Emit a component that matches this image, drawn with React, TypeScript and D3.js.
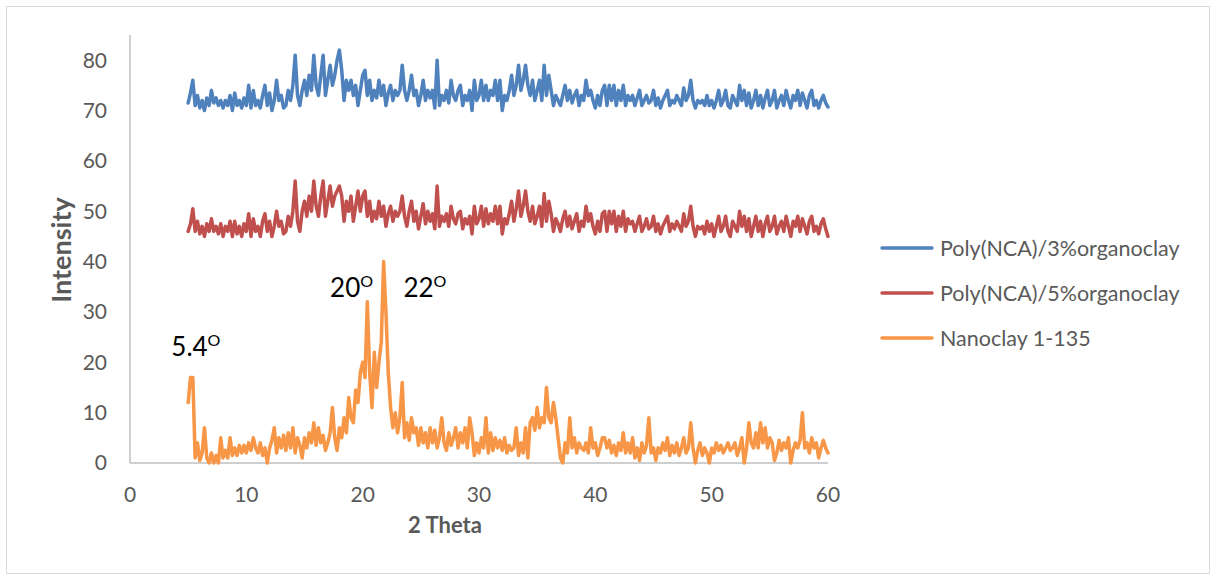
import React from "react";
import * as d3 from "d3";

// 2θ sampling grid: 5.0 to 60.0 in 0.2 steps
const twoTheta: number[] = d3.range(0, 276).map((i) => +(5 + i * 0.2).toFixed(1));

const seriesNames = ["Poly(NCA)/3%organoclay", "Poly(NCA)/5%organoclay", "Nanoclay 1-135"];
const seriesColors = ["#4F81BD", "#C0504D", "#F79646"];

const organo3: number[] = [
  71.5, 73.5, 76, 71, 73, 70.5, 72, 70, 72.5, 71,
  74, 71.5, 72.5, 71, 72, 70.5, 72, 71, 73, 70,
  73.5, 71, 72, 70.5, 72.5, 71, 75, 70.5, 74, 71,
  72, 70.5, 73, 75, 71, 73.5, 70, 72, 76, 72,
  73, 70.5, 71, 74, 72, 75, 81, 73, 71, 74,
  76, 73, 77, 74, 81, 75, 73, 77, 81, 73,
  76, 79, 75, 77, 80, 82, 78, 72, 76, 74,
  76, 73, 75, 71, 74, 77, 78, 73, 76, 72,
  74, 72.5, 76, 73, 75, 71, 73.5, 75, 72, 74,
  73, 74, 79, 74, 72, 74, 77, 73, 74, 71,
  73, 76, 72, 74, 72.5, 74, 70.5, 80, 71, 73,
  72, 74, 71.5, 76, 73, 72, 74, 75, 71, 73,
  72, 74, 70, 76, 72, 73, 76, 72, 75, 72,
  74, 73, 76, 72, 76, 70, 73, 72, 74, 77,
  73, 75, 79, 74, 76, 79, 75, 73, 76, 72,
  74, 76, 72, 79, 73, 77, 74, 71, 73, 72,
  71, 73, 75, 72, 74, 71.5, 73, 74, 71, 73,
  72, 76, 73, 74, 72, 70.5, 73, 71, 74, 75,
  71, 75, 72, 75, 71, 74, 72, 75, 71, 73,
  72, 73, 71, 72.5, 74, 71, 72, 73, 71.5, 72,
  74, 71, 72.5, 70.5, 72, 73, 74, 71, 72, 71.5,
  73, 72, 71, 74.5, 72, 73, 76, 72, 70.5, 72,
  71.5, 72, 71, 73, 71, 72, 70.5, 72, 74, 71,
  72, 74, 71, 70.5, 73, 72, 71, 75, 72, 74,
  71, 73.5, 70.5, 72, 74, 71, 73, 70.5, 72.5, 74,
  71, 72, 74, 70.5, 72, 73, 71, 74, 72, 70.5,
  73, 72, 74, 71, 73.5, 72, 70.5, 73, 74, 71,
  72, 70.5, 72, 73, 71.5, 70.7,
];

const organo5: number[] = [
  46, 47.5, 50.5, 46, 48, 45.5, 47, 45, 47.5, 46,
  48.5, 46, 47, 45.5, 47.5, 45, 47, 46, 48, 45,
  48, 45.5, 47, 45, 47.5, 46, 49.5, 45, 48.5, 46,
  47, 45, 48, 49.5, 46, 48, 45, 47, 50, 47,
  48, 45.5, 46, 49, 47, 50, 56, 48, 46, 50,
  52, 49, 53, 50, 56, 51, 49, 53, 56, 49,
  52, 55, 51, 53, 54, 55, 53, 48, 52, 50,
  53, 48, 51, 54, 50, 53, 54, 49, 52, 48,
  50, 48.5, 52, 49, 51, 47, 49.5, 51, 48, 50,
  49, 50, 53, 49, 47, 50, 52, 48, 50, 46.5,
  49, 51.5, 47.5, 50, 48, 49.5, 46.5, 55, 47, 49,
  48, 49.5, 47, 51, 48.5, 47.5, 49.5, 50, 46.5, 48.5,
  47.5, 49, 45.5, 51, 47.5, 48.5, 51, 47, 50.5, 47.5,
  49.5, 48, 51, 47.5, 51, 45.5, 48.5, 47.5, 49.5, 52,
  48, 50.5, 54, 49, 51, 54, 50, 48, 51, 47.5,
  49, 51, 47, 53.5, 48, 52, 49.5, 46, 48.5, 47.5,
  46, 48.5, 50, 47, 49, 46.5, 48, 49.5, 46, 48,
  47, 51, 48, 49.5, 47, 45.5, 48, 46, 49.5, 50,
  46, 50, 47.5, 50, 46, 49, 47, 50, 46, 48.5,
  47.5, 48, 46, 47.5, 49, 46, 47, 48.5, 46.5, 47,
  49, 46, 47.5, 45.5, 47, 48, 49, 46, 47.5, 46.5,
  48, 47, 46, 49.5, 47, 48, 51, 47, 45, 47,
  46.5, 47, 45.5, 48, 46, 47.5, 45, 47, 49, 46,
  47, 49, 46, 45, 48, 47, 46, 50, 47, 49,
  46, 48.5, 45, 47, 49, 46, 48, 45, 47.5, 49,
  46, 47, 49, 45.5, 47, 48, 46, 49, 47, 45,
  48, 47, 49, 46, 48.5, 47, 45.5, 48, 49, 46,
  47, 45.5, 47.5, 48.5, 46.5, 45,
];

const nanoclay: number[] = [
  12, 17, 17, 1, 4, 0.5, 2, 7, 1, 0,
  2, 0, 1.5, 0, 5, 1, 2.5, 1, 5, 1.5,
  3, 1.5, 3.5, 2, 3.5, 2, 4, 2.5, 5, 3,
  2, 4, 1.5, 3, 0, 3, 4.5, 7, 2, 5,
  3, 5.5, 2.5, 6, 3, 7, 2, 5, 3.5, 1,
  5, 3, 6, 4, 8, 3.5, 7, 4, 5.5, 2.5,
  4, 6, 11, 5, 2.5, 7, 5, 9, 6, 13,
  9, 8, 14.5, 12, 18, 20, 17, 32, 18, 11,
  22, 15, 20, 24, 40, 30, 18, 11, 7, 10,
  6, 9, 16, 5, 8, 4.5, 9, 6, 7, 3.5,
  7, 4, 6, 3, 7, 4, 6.5, 3, 5, 9,
  4, 2.5, 6, 3.5, 5, 7, 3, 6, 4, 7,
  3, 9, 6, 1.5, 4, 2, 5, 3, 9, 2,
  6, 2.5, 5, 3, 4.5, 2.5, 5, 2, 3.5, 2.5,
  3, 7, 1.5, 4, 2, 7, 1, 8, 9, 6.5,
  11, 7, 9, 8, 15, 9, 8, 12, 9, 5,
  1, 0, 4, 2, 9, 3, 5, 2, 4, 3,
  2.5, 4, 2, 7, 3, 4, 1.5, 3, 5, 5,
  3, 4.5, 2, 3.5, 1.5, 4, 2.5, 6, 2, 4,
  2, 5, 1, 3, 0.5, 4, 2, 3.5, 9, 2,
  3, 0.5, 3, 2, 4, 2.5, 5, 1.5, 3.5, 2,
  4, 1.5, 3, 5, 2, 3, 8, 3, 0, 2.5,
  4, 1.5, 3, 2, 0, 3, 2, 4, 2.5, 3.5,
  2, 3, 4, 2.5, 3, 4, 1.5, 3, 5, 0,
  3, 8, 4, 3, 6, 3, 8, 4, 7, 3,
  5, 4, 0.5, 2, 4.5, 2.5, 4, 3, 5, 0,
  2.5, 4, 3, 4.5, 10, 3, 4, 2, 5, 3,
  4, 1, 3, 4.5, 3, 2,
];

const xTicks = [0, 10, 20, 30, 40, 50, 60];
const yTicks = [0, 10, 20, 30, 40, 50, 60, 70, 80];

const peakLabels = [
  { base: "5.4", x: 3.55, y: 21.2 },
  { base: "20", x: 17.2, y: 33 },
  { base: "22", x: 23.5, y: 33 },
];

const FONT = "Lato, 'Noto Sans', sans-serif";

export default function App() {
  const W = 1216;
  const H = 580;
  const x = d3.scaleLinear().domain([0, 60]).range([130, 828]);
  const y = d3.scaleLinear().domain([0, 85]).range([463, 35]);

  const allSeries = [organo3, organo5, nanoclay];
  const line = d3
    .line<number>()
    .x((_, i) => x(twoTheta[i]))
    .y((d) => y(d));

  return (
    <svg
      width={W}
      height={H}
      style={{ position: "absolute", left: 0, top: 0, background: "#fff" }}
      fontFamily={FONT}
    >
      <rect x={6.5} y={6.5} width={1203} height={567} fill="#fff" stroke="#D9D9D9" strokeWidth={1} />

      {/* axes */}
      <line x1={x(0)} x2={x(0)} y1={y(85)} y2={y(0)} stroke="#BFBFBF" strokeWidth={1.5} />
      <line x1={x(0)} x2={x(60)} y1={y(0)} y2={y(0)} stroke="#BFBFBF" strokeWidth={1.5} />

      {yTicks.map((t) => (
        <text key={"y" + t} x={107} y={y(t)} dy="0.35em" textAnchor="end" fontSize={21} fill="#595959">
          {t}
        </text>
      ))}
      {xTicks.map((t) => (
        <text key={"x" + t} x={x(t)} y={502} textAnchor="middle" fontSize={21} fill="#595959">
          {t}
        </text>
      ))}

      <text
        transform={`translate(71,250) rotate(-90)`}
        textAnchor="middle"
        fontSize={27}
        fontWeight="bold"
        fill="#595959"
      >
        Intensity
      </text>
      <text x={445} y={533} textAnchor="middle" fontSize={22} fontWeight="bold" fill="#595959">
        2 Theta
      </text>

      {allSeries.map((s, k) => (
        <path
          key={"s" + k}
          d={line(s) || ""}
          fill="none"
          stroke={seriesColors[k]}
          strokeWidth={3.5}
          strokeLinejoin="round"
          strokeLinecap="round"
        />
      ))}

      {peakLabels.map((p) => (
        <text key={p.base} x={x(p.x)} y={y(p.y)} fontSize={26} fill="#000">
          {p.base}
          <tspan fontSize={16} dy={-10}>
            O
          </tspan>
        </text>
      ))}

      {seriesNames.map((n, k) => (
        <g key={n} transform={`translate(0,${248 + k * 45})`}>
          <line x1={882} x2={932} y1={0} y2={0} stroke={seriesColors[k]} strokeWidth={3.5} strokeLinecap="round" />
          <text x={940} y={0} dy="0.35em" fontSize={21.5} fill="#595959">
            {n}
          </text>
        </g>
      ))}
    </svg>
  );
}
